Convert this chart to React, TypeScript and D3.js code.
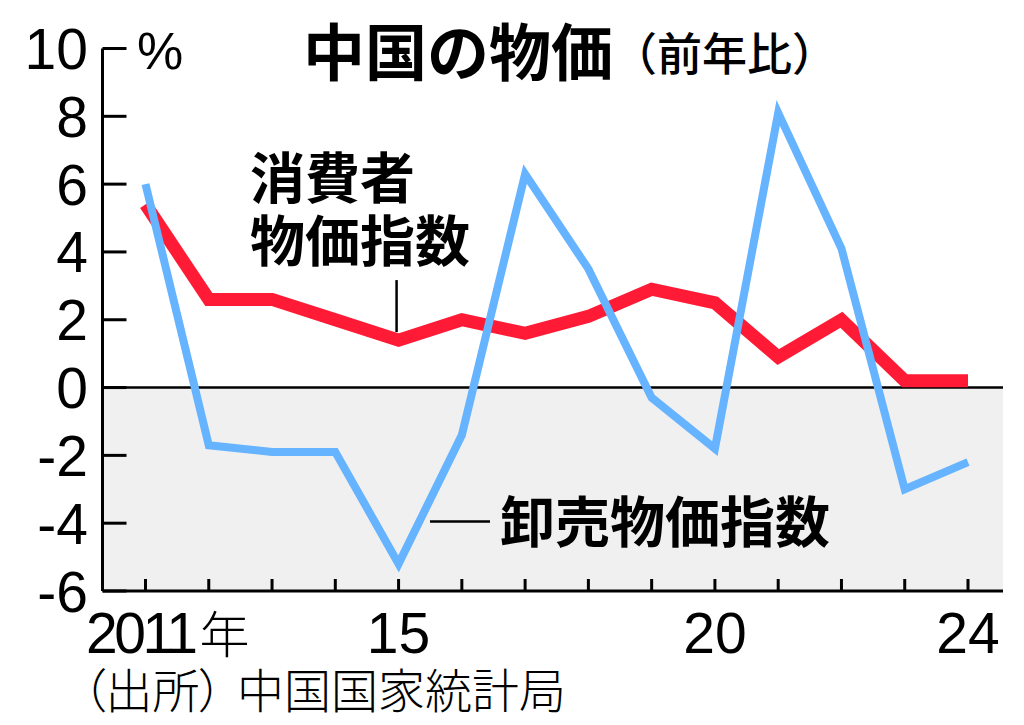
import * as d3 from 'd3'
import React from 'react'

const years = [2011, 2012, 2013, 2014, 2015, 2016, 2017, 2018, 2019, 2020, 2021, 2022, 2023, 2024]
const cpi = [5.4, 2.6, 2.6, 2.0, 1.4, 2.0, 1.6, 2.1, 2.9, 2.5, 0.9, 2.0, 0.2, 0.2]
const ppi = [6.0, -1.7, -1.9, -1.9, -5.2, -1.4, 6.3, 3.5, -0.3, -1.8, 8.1, 4.1, -3.0, -2.2]
const yTicks = [10, 8, 6, 4, 2, 0, -2, -4, -6]
const xLabels: [number, string][] = [[2015, '15'], [2020, '20'], [2024, '24']]

const W = 1024, H = 725
const num = '"Liberation Sans", Arial, sans-serif'
const jp = '"Noto Sans CJK JP", "Noto Sans", sans-serif'

export default function App() {
  const
    left = 102.5, right = 1003,
    x = d3.scaleLinear().domain([2011, 2024]).range([145.5, 968]),
    y = d3.scaleLinear().domain([-6, 10]).range([591, 48.5]),
    ln = d3.line<number>().x((_, i) => x(years[i])).y(d => y(d))

  return (
    <div style={{ position: 'absolute', left: 0, top: 0 }}>
      <svg width={W} height={H} style={{ display: 'block', background: '#fff' }}>
        <rect x={left} y={y(0)} width={right - left} height={y(-6) - y(0)} fill='#f0f0f0' />

        {/* axes */}
        <line x1={left} x2={left} y1={y(10)} y2={y(-6)} stroke='#000' strokeWidth={3} />
        <line x1={left} x2={right} y1={y(-6)} y2={y(-6)} stroke='#000' strokeWidth={3} />
        <line x1={left} x2={right} y1={y(0)} y2={y(0)} stroke='#000' strokeWidth={2.5} />
        {yTicks.map(t => (
          <g key={t}>
            <line x1={left} x2={left + 24} y1={y(t)} y2={y(t)} stroke='#000' strokeWidth={3} />
            <text x={88} y={y(t)} dy='0.36em' textAnchor='end' fontFamily={num} fontSize={57}>{t}</text>
          </g>
        ))}
        {years.map(yr => (
          <line key={yr} x1={x(yr)} x2={x(yr)} y1={y(-6)} y2={y(-6) - 12} stroke='#000' strokeWidth={3} />
        ))}
        <text x={86} y={653} fontFamily={num} fontSize={57} letterSpacing={-3.5}>
          {years[0]}<tspan fontFamily={jp} fontSize={50} fontWeight={300} dx={5}>年</tspan>
        </text>
        {xLabels.map(([yr, s]) => (
          <text key={yr} x={x(yr)} y={653} textAnchor='middle' fontFamily={num} fontSize={57}>{s}</text>
        ))}
        <text x={137} y={69} fontFamily={num} fontSize={52}>%</text>

        {/* series */}
        <path d={ln(cpi) as string} fill='none' stroke='#ff1a35' strokeWidth={13} strokeLinejoin='miter' />
        <path d={ln(ppi) as string} fill='none' stroke='#66b3ff' strokeWidth={8} strokeLinejoin='miter' />

        {/* annotations */}
        <line x1={x(2015) - 2} x2={x(2015) - 2} y1={y(1.4) - 60} y2={y(1.4) - 8} stroke='#000' strokeWidth={2.5} />
        <text x={250} y={198} fontFamily={jp} fontSize={55} fontWeight={700}>消費者</text>
        <text x={250} y={261} fontFamily={jp} fontSize={55} fontWeight={700}>物価指数</text>
        <line x1={430} x2={490} y1={521.5} y2={521.5} stroke='#000' strokeWidth={2.5} />
        <text x={500} y={542} fontFamily={jp} fontSize={55} fontWeight={700}>卸売物価指数</text>

        <text x={303} y={76} fontFamily={jp} fontSize={62} fontWeight={700}>中国の物価</text>
        <text x={612} y={71} fontFamily={jp} fontSize={45} fontWeight={500}>（前年比）</text>

        <text x={82} y={708} fontFamily={jp} fontSize={47} fontWeight={300}
          style={{ fontFeatureSettings: "'palt'" }}>（出所）<tspan dx={14}>中国国家統計局</tspan></text>
      </svg>
    </div>
  )
}
